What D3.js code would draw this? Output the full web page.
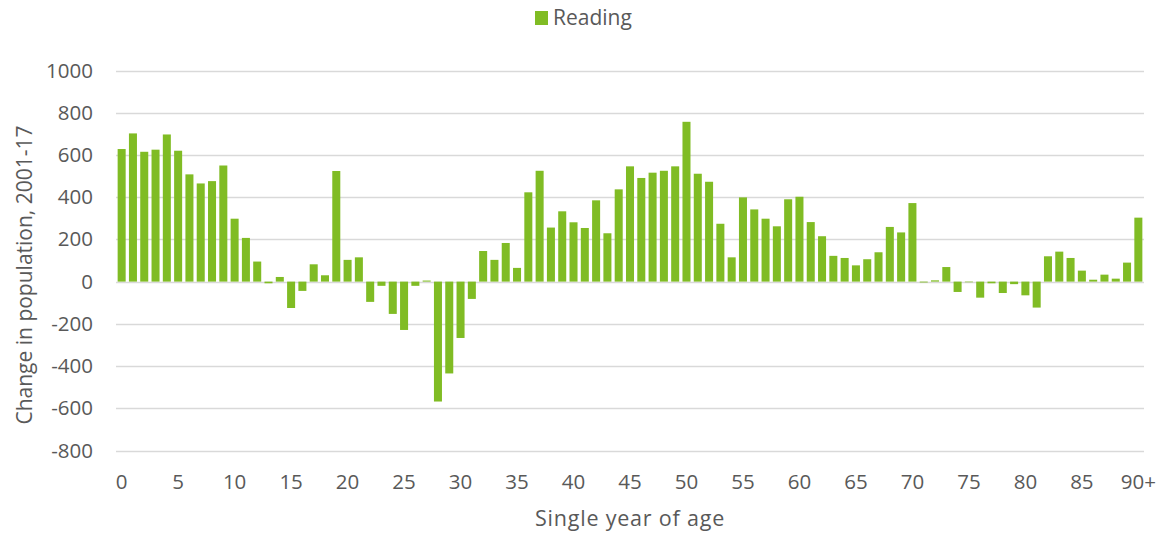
<!DOCTYPE html>
<html>
<head>
<meta charset="utf-8">
<script src="https://cdn.jsdelivr.net/npm/d3@7"></script>
<style>
  body { margin: 0; background: #fff; }
  svg text { font-family: "Open Sans", "Noto Sans", sans-serif; fill: #595959; }
</style>
</head>
<body>
<svg id="chart" width="1162" height="538"></svg>
<script>
const ages = d3.range(0, 91).map(a => a === 90 ? "90+" : String(a));
const reading = [
  628, 702, 615, 625, 697, 620, 508, 465, 476, 550,
  298, 207, 95, -8, 22, -125, -44, 82, 30, 524,
  103, 115, -96, -20, -153, -229, -20, 5, -568, -435,
  -267, -82, 145, 103, 183, 65, 423, 525, 256, 333,
  281, 254, 385, 229, 437, 546, 491, 516, 525, 546,
  757, 511, 473, 274, 115, 399, 342, 298, 262, 390,
  402, 282, 215, 122, 112, 77, 106, 139, 259, 233,
  372, -4, 6, 69, -49, -3, -76, -8, -54, -12,
  -65, -123, 120, 142, 112, 52, 9, 33, 14, 90,
  303
];
const yTicks = [-800, -600, -400, -200, 0, 200, 400, 600, 800, 1000];
const xTickLabels = ["0","5","10","15","20","25","30","35","40","45","50","55","60","65","70","75","80","85","90+"];
const seriesName = "Reading";
const barColor = "#80bc24";

const svg = d3.select("#chart");
const mLeft = 116, mRight = 1144, mTop = 70.5, mBottom = 450.5;

const x = d3.scaleBand().domain(ages).range([mLeft, mRight]).paddingInner(0.29).paddingOuter(0.145);
const y = d3.scaleLinear().domain([-800, 1000]).range([mBottom, mTop]);

// gridlines
svg.append("g").selectAll("line").data(yTicks).join("line")
  .attr("x1", mLeft).attr("x2", mRight)
  .attr("y1", d => Math.round(y(d)) + 0.5).attr("y2", d => Math.round(y(d)) + 0.5)
  .attr("stroke", "#d9d9d9").attr("stroke-width", 1.3);

// y axis labels
const yAxis = d3.axisLeft(y).tickValues(yTicks).tickSize(0).tickPadding(0).tickFormat(d => String(d));
const yg = svg.append("g").attr("transform", `translate(${93},0)`).call(yAxis);
yg.select(".domain").remove();
yg.selectAll("text").style("font-size", "20.5px").attr("fill", "#595959");

// bars
svg.append("g").selectAll("rect").data(reading).join("rect")
  .attr("x", (d, i) => x(ages[i]))
  .attr("width", x.bandwidth())
  .attr("y", d => y(Math.max(0, d)))
  .attr("height", d => Math.abs(y(d) - y(0)))
  .attr("fill", barColor);

// x axis labels
const xAxis = d3.axisBottom(x).tickValues(xTickLabels).tickSize(0).tickPadding(0);
const xg = svg.append("g").attr("transform", `translate(0,${489})`).call(xAxis);
xg.select(".domain").remove();
xg.selectAll("text").style("font-size", "20.5px").attr("fill", "#595959").attr("dy", "0").attr("y", 0);

// axis titles
svg.append("text").attr("x", 630).attr("y", 526).attr("text-anchor", "middle")
  .style("font-size", "21.5px").style("letter-spacing", "0.8px").text("Single year of age");
svg.append("text").attr("transform", "translate(32,275) rotate(-90)").attr("text-anchor", "middle")
  .style("font-size", "21px").text("Change in population, 2001-17");

// legend
const lg = svg.append("g");
lg.append("rect").attr("x", 535).attr("y", 11).attr("width", 13).attr("height", 14).attr("fill", barColor);
lg.append("text").attr("x", 553).attr("y", 25).style("font-size", "21px").text(seriesName);
</script>
</body>
</html>
